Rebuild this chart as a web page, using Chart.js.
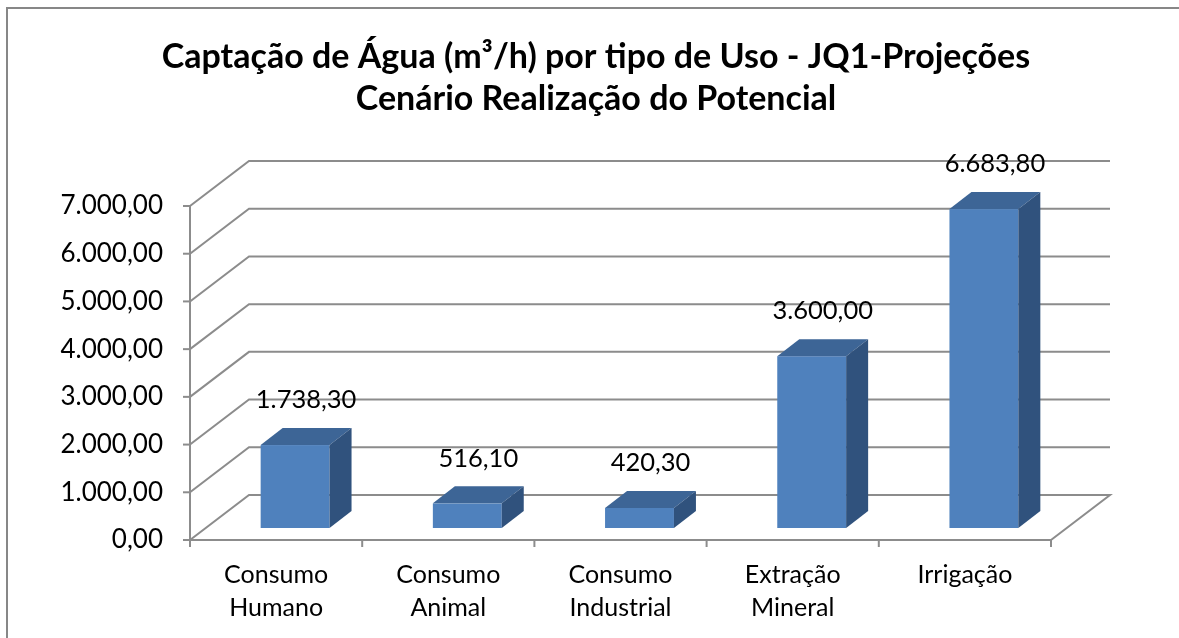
<!DOCTYPE html>
<html>
<head>
<meta charset="utf-8">
<script src="https://cdn.jsdelivr.net/npm/chart.js@4"></script>
<style>
  html, body { margin: 0; background: #fff; }
  canvas { display: block; }
</style>
</head>
<body>
<canvas id="chart" width="1179" height="638"></canvas>
<script>
// dados
const titulo = ["Captação de Água (m³/h) por tipo de Uso - JQ1-Projeções", "Cenário Realização do Potencial"];
const categorias = [["Consumo", "Humano"], ["Consumo", "Animal"], ["Consumo", "Industrial"], ["Extração", "Mineral"], ["Irrigação"]];
const captacao = [1738.30, 516.10, 420.30, 3600.00, 6683.80];
const yMax = 7000;
const yPasso = 1000;

// deslocamentos da perspectiva 3D (px)
const fundo = { dx: 59, dy: -45 };   // parede do fundo
const frente = { dx: 19, dy: -12 };  // face da frente da barra
const prof = { dx: 22, dy: -17 };    // profundidade da barra

const FONTE = "Lato";

// 1234.5 -> "1.234,50"
function fmt(v) {
    let [int, dec] = v.toFixed(2).split(".");
    int = int.replace(/\B(?=(\d{3})+(?!\d))/g, ".");
    return int + "," + dec;
}

const grafico3d = {
    id: "grafico3d",
    beforeDraw(chart) {
        const ctx = chart.ctx;
        ctx.save();
        ctx.fillStyle = "#fff";
        ctx.fillRect(0, 0, chart.width, chart.height);
        // moldura
        ctx.strokeStyle = "#878787";
        ctx.lineWidth = 2;
        ctx.beginPath();
        ctx.moveTo(7, chart.height + 5);
        ctx.lineTo(7, 8);
        ctx.lineTo(chart.width + 5, 8);
        ctx.stroke();
        // título (centrado no gráfico inteiro, não na área útil)
        ctx.fillStyle = "#000";
        ctx.font = "bold 34px " + FONTE;
        ctx.textAlign = "center";
        ctx.textBaseline = "middle";
        ctx.fillText(titulo[0], 596, 57);
        ctx.fillText(titulo[1], 596, 99);
        ctx.restore();
    },
    beforeDatasetsDraw(chart) {
        const { ctx, chartArea: a, scales: { x, y } } = chart;
        ctx.save();
        ctx.strokeStyle = "#8c8c8c";
        ctx.lineWidth = 2;
        // grade: diagonal na parede lateral + linha na parede do fundo
        y.ticks.forEach(t => {
            const py = y.getPixelForValue(t.value);
            ctx.beginPath();
            ctx.moveTo(a.left, py);
            ctx.lineTo(a.left + fundo.dx, py + fundo.dy);
            ctx.lineTo(a.right + fundo.dx, py + fundo.dy);
            if (t.value === 0) ctx.lineTo(a.right, py);
            ctx.stroke();
            ctx.beginPath();
            ctx.moveTo(a.left - 7, py);
            ctx.lineTo(a.left, py);
            ctx.stroke();
        });
        // eixos da frente
        ctx.beginPath();
        ctx.moveTo(a.left, a.top);
        ctx.lineTo(a.left, a.bottom);
        ctx.lineTo(a.right, a.bottom);
        ctx.stroke();
        for (let i = 0; i <= categorias.length; i++) {
            const px = x.getPixelForValue(i - 0.5);
            ctx.beginPath();
            ctx.moveTo(px, a.bottom);
            ctx.lineTo(px, a.bottom + 7);
            ctx.stroke();
        }
        ctx.restore();
    },
    afterDatasetsDraw(chart) {
        const ctx = chart.ctx;
        const meta = chart.getDatasetMeta(0);
        ctx.save();
        meta.data.forEach((bar, i) => {
            const x0 = bar.x - bar.width / 2 + frente.dx;
            const x1 = bar.x + bar.width / 2 + frente.dx;
            const yt = bar.y + frente.dy;
            const yb = bar.base + frente.dy;
            // frente
            ctx.fillStyle = "#4F81BD";
            ctx.fillRect(x0, yt, x1 - x0, yb - yt);
            // topo
            ctx.fillStyle = "#3D6596";
            ctx.beginPath();
            ctx.moveTo(x0, yt);
            ctx.lineTo(x0 + prof.dx, yt + prof.dy);
            ctx.lineTo(x1 + prof.dx, yt + prof.dy);
            ctx.lineTo(x1, yt);
            ctx.closePath();
            ctx.fill();
            // lado
            ctx.fillStyle = "#30527D";
            ctx.beginPath();
            ctx.moveTo(x1, yt);
            ctx.lineTo(x1 + prof.dx, yt + prof.dy);
            ctx.lineTo(x1 + prof.dx, yb + prof.dy);
            ctx.lineTo(x1, yb);
            ctx.closePath();
            ctx.fill();
            // rótulo do valor
            ctx.fillStyle = "#000";
            ctx.font = "25.5px " + FONTE;
            ctx.textAlign = "center";
            ctx.textBaseline = "middle";
            ctx.fillText(fmt(captacao[i]), (x0 + x1 + prof.dx) / 2, yt + prof.dy - 28);
        });
        ctx.restore();
    }
};

new Chart(document.getElementById("chart"), {
    type: "bar",
    data: {
        labels: categorias,
        datasets: [{
            label: "Captação (m³/h)",
            data: captacao,
            backgroundColor: "rgba(0,0,0,0)",
            barPercentage: 1,
            categoryPercentage: 0.4
        }]
    },
    options: {
        responsive: false,
        animation: false,
        events: [],
        layout: { padding: { left: 0, right: 128, top: 206, bottom: 0 } },
        plugins: {
            legend: { display: false },
            tooltip: { enabled: false },
            title: { display: false }
        },
        scales: {
            x: {
                grid: { display: false, drawTicks: false },
                border: { display: false },
                ticks: {
                    color: "#000",
                    font: { family: FONTE, size: 25, lineHeight: 1.32 },
                    padding: 18,
                    maxRotation: 0
                },
                afterFit: s => { s.height = 98; }
            },
            y: {
                min: 0,
                max: yMax,
                grid: { display: false, drawTicks: false },
                border: { display: false },
                ticks: {
                    stepSize: yPasso,
                    color: "#000",
                    font: { family: FONTE, size: 26 },
                    padding: 27,
                    callback: v => fmt(v)
                },
                afterFit: s => { s.width = 190; }
            }
        }
    },
    plugins: [grafico3d]
});
</script>
</body>
</html>
